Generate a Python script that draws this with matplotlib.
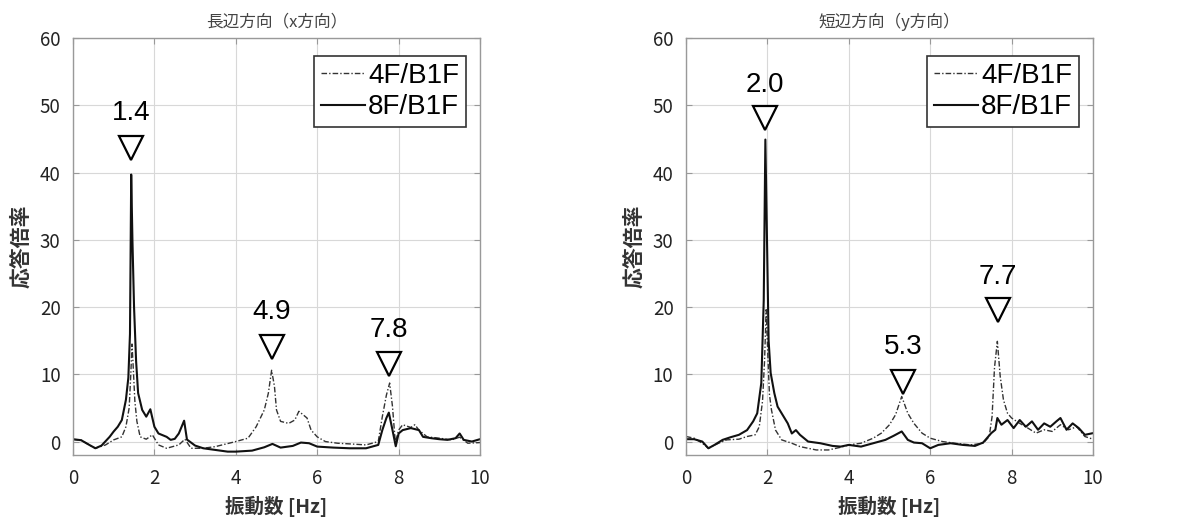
import matplotlib
matplotlib.use("Agg")
import matplotlib.pyplot as plt
import numpy as np

plt.rcParams['font.family'] = ['Noto Sans CJK JP', 'DejaVu Sans']

# ---- data ----
titles = ["長辺方向（x方向）", "短辺方向（y方向）"]
series_names = ["4F/B1F", "8F/B1F"]

# Left panel (x direction)
lx_8f = [0.0, 0.2, 0.4, 0.55, 0.7, 0.9, 1.0, 1.1, 1.2, 1.3, 1.36, 1.4, 1.43, 1.46, 1.5, 1.55, 1.6, 1.7, 1.8, 1.9, 1.95,
         2.0, 2.1, 2.3, 2.4, 2.5, 2.6, 2.73, 2.8, 3.0, 3.2, 3.5, 3.8, 4.0, 4.4, 4.7, 4.9, 5.1, 5.4, 5.6, 5.8, 6.0,
         6.4, 6.8, 7.2, 7.5, 7.6, 7.7, 7.76, 7.85, 7.93, 8.0, 8.1, 8.3, 8.5, 8.6, 8.8, 9.0, 9.2, 9.4, 9.5, 9.6, 9.8, 10.0]
ly_8f = [0.35, 0.2, -0.5, -1.0, -0.6, 0.7, 1.5, 2.2, 3.2, 6.2, 9.5, 16, 39.7, 30, 20, 12, 7.2, 4.7, 3.7, 4.8, 3.5,
         2.2, 1.2, 0.7, 0.25, 0.4, 1.2, 3.1, 0.3, -0.6, -1.0, -1.25, -1.5, -1.5, -1.35, -0.85, -0.35, -0.9, -0.65, -0.15, -0.25, -0.75,
         -0.9, -1.0, -1.0, -0.5, 1.7, 3.5, 4.3, 1.7, -0.7, 1.2, 1.7, 2.0, 1.7, 0.7, 0.5, 0.35, 0.25, 0.5, 1.2, 0.25, 0.0, 0.35]

lx_4f = [0.0, 0.2, 0.4, 0.55, 0.8, 1.0, 1.2, 1.3, 1.38, 1.42, 1.45, 1.48, 1.52, 1.57, 1.65, 1.8, 1.95, 2.1, 2.3, 2.6,
         2.75, 2.9, 3.2, 3.5, 4.0, 4.3, 4.5, 4.7, 4.8, 4.88, 4.95, 5.0, 5.1, 5.3, 5.45, 5.55, 5.65, 5.75, 5.85, 6.0,
         6.2, 6.5, 6.8, 7.2, 7.5, 7.6, 7.7, 7.78, 7.85, 7.92, 8.0, 8.1, 8.3, 8.4, 8.5, 8.7, 9.0, 9.3, 9.5, 9.7, 10.0]
ly_4f = [0.3, 0.2, -0.5, -1.0, -0.5, 0.25, 0.7, 2.2, 5, 10, 14.5, 11, 6, 3, 0.7, 0.35, 1.0, -0.5, -1.0, -0.5,
         0.35, -1.0, -1.0, -0.75, 0.0, 0.5, 2.2, 4.7, 7.2, 10.6, 8.2, 4.7, 3.0, 2.7, 3.2, 4.5, 4.0, 3.5, 1.7, 0.7,
         0.0, -0.25, -0.35, -0.5, 0.0, 3.7, 6.9, 8.7, 5.2, -0.2, 1.7, 2.5, 2.1, 2.5, 1.7, 0.7, 0.5, 0.25, 0.65, -0.25, -0.15]

# Right panel (y direction)
rx_8f = [0.0, 0.2, 0.4, 0.55, 0.7, 0.9, 1.1, 1.3, 1.5, 1.65, 1.75, 1.85, 1.91, 1.95, 1.99, 2.03, 2.08, 2.17, 2.25, 2.35,
         2.5, 2.6, 2.7, 2.8, 3.0, 3.3, 3.6, 3.8, 4.0, 4.3, 4.6, 4.9, 5.1, 5.3, 5.45, 5.6, 5.8, 6.0, 6.2, 6.5, 6.8,
         7.1, 7.3, 7.5, 7.6, 7.65, 7.75, 7.9, 8.05, 8.2, 8.35, 8.5, 8.65, 8.8, 8.95, 9.1, 9.2, 9.35, 9.5, 9.65, 9.8, 10.0]
ry_8f = [0.35, 0.35, 0.0, -1.0, -0.5, 0.25, 0.65, 1.0, 1.7, 3.0, 4.2, 8.7, 21, 44.9, 30, 15, 10.2, 7.2, 5.2, 4.2,
         2.7, 1.2, 1.7, 1.0, 0.0, -0.25, -0.65, -0.75, -0.5, -0.75, -0.25, 0.25, 0.85, 1.5, 0.25, -0.15, -0.25, -1.0, -0.5, -0.25, -0.5,
         -0.65, -0.15, 1.25, 1.75, 3.5, 2.5, 3.2, 2.0, 3.2, 2.2, 3.0, 1.75, 2.7, 2.2, 3.0, 3.5, 1.75, 2.7, 2.0, 1.0, 1.25]

rx_4f = [0.0, 0.2, 0.4, 0.55, 0.8, 1.0, 1.3, 1.5, 1.7, 1.8, 1.88, 1.93, 1.97, 2.01, 2.05, 2.1, 2.2, 2.35, 2.6, 2.8,
         3.0, 3.2, 3.5, 3.8, 4.0, 4.3, 4.6, 4.8, 5.0, 5.15, 5.3, 5.45, 5.6, 5.8, 6.0, 6.3, 6.6, 7.0, 7.3, 7.45, 7.52,
         7.58, 7.65, 7.72, 7.8, 7.9, 8.0, 8.2, 8.4, 8.6, 8.8, 9.0, 9.2, 9.4, 9.6, 9.8, 10.0]
ry_4f = [0.75, 0.5, -0.25, -1.0, -0.25, 0.25, 0.35, 0.75, 1.0, 2.2, 6, 12, 19.6, 13, 7, 4.7, 1.7, 0.25, -0.25, -0.75,
         -1.0, -1.25, -1.25, -0.85, -0.5, -0.25, 0.5, 1.25, 2.5, 4.0, 6.7, 4.2, 2.7, 1.25, 0.5, 0.0, -0.25, -0.5, -0.25, 0.75, 3.7,
         11, 14.9, 9.7, 6.2, 4.2, 3.5, 2.7, 2.0, 1.25, 1.75, 1.5, 2.5, 1.75, 2.2, 0.75, 0.35]

# Peak annotations: label, marker x, marker y, label y
left_peaks_label = ["1.4", "4.9", "7.8"]
left_peaks_x = [1.43, 4.89, 7.76]
left_peaks_my = [43.7, 14.0, 11.6]
left_peaks_ty = [48.9, 19.2, 16.6]

right_peaks_label = ["2.0", "5.3", "7.7"]
right_peaks_x = [1.95, 5.34, 7.66]
right_peaks_my = [48.1, 8.9, 19.6]
right_peaks_ty = [53.0, 14.1, 24.5]

xticks = [0, 2, 4, 6, 8, 10]
yticks = [0, 10, 20, 30, 40, 50, 60]

panels = [
    (titles[0], lx_4f, ly_4f, lx_8f, ly_8f, left_peaks_label, left_peaks_x, left_peaks_my, left_peaks_ty),
    (titles[1], rx_4f, ry_4f, rx_8f, ry_8f, right_peaks_label, right_peaks_x, right_peaks_my, right_peaks_ty),
]

sans = ['Liberation Sans', 'DejaVu Sans']

fig = plt.figure(figsize=(11.94, 5.30), dpi=100)
lefts = [73 / 1194, 686 / 1194]
W = 407 / 1194
B = 1 - 455 / 530
H = (455 - 38) / 530

for i, (title, x4, y4, x8, y8, plab, px, pmy, pty) in enumerate(panels):
    ax = fig.add_axes([lefts[i], B, W, H])
    l1, = ax.plot(x4, y4, color='#333333', lw=1.0, linestyle=(0, (4, 1.5, 1, 1.5)))
    l2, = ax.plot(x8, y8, color='#111111', lw=1.5, linestyle='-')
    ax.plot(px, pmy, linestyle='none', marker='v', markersize=17, mfc='white', mec='black', mew=1.6, zorder=5)
    for lab, xx, ty in zip(plab, px, pty):
        ax.text(xx, ty, lab, ha='center', va='center', fontsize=20, family=sans, color='black')
    ax.set_xlim(0, 10)
    ax.set_ylim(-2, 60)
    ax.set_xticks(xticks)
    ax.set_yticks(yticks)
    ax.grid(True, color='#d8d8d8', lw=0.8)
    ax.set_axisbelow(True)
    for s in ax.spines.values():
        s.set_color('#999999')
        s.set_linewidth(1.0)
    ax.tick_params(direction='in', length=4, color='#999999', top=True, right=True,
                   labelsize=13.5, labelcolor='#222222')
    ax.tick_params(axis='x', pad=9)
    ax.tick_params(axis='y', pad=9)
    ax.set_title(title, fontsize=12, color='#444444', pad=8)
    ax.set_xlabel("振動数 [Hz]", fontsize=14, fontweight='bold', color='#333333', labelpad=5)
    ax.set_ylabel("応答倍率", fontsize=15, fontweight='bold', color='#333333', labelpad=6)
    leg = ax.legend([l1, l2], series_names, loc='upper right', bbox_to_anchor=(0.966, 0.957),
                    prop={'family': sans, 'size': 20}, frameon=True, fancybox=False,
                    handlelength=1.6, handletextpad=0.1, borderpad=0.25, labelspacing=0.2,
                    borderaxespad=0)
    leg.get_frame().set_edgecolor('#333333')
    leg.get_frame().set_linewidth(1.2)
    leg.get_frame().set_alpha(1)

fig.savefig("out.png", dpi=100)
